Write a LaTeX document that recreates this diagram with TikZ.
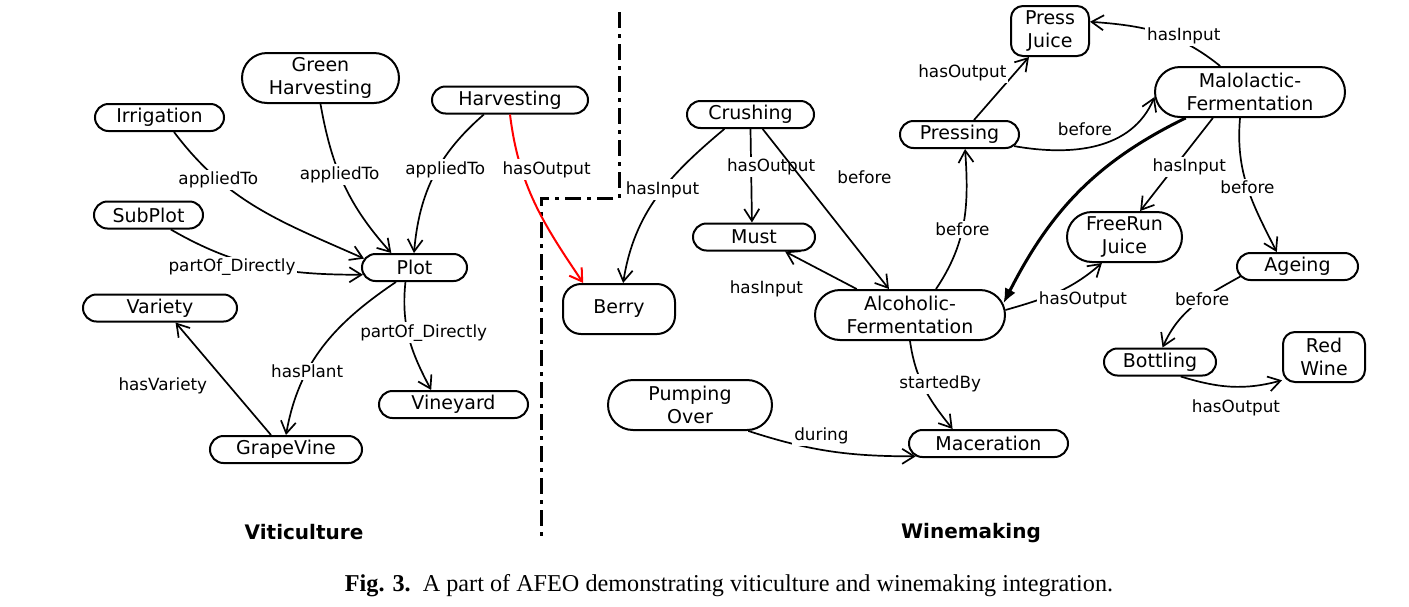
\documentclass[tikz,border=0pt]{standalone}
\usepackage{fontspec}
\setmainfont{DejaVu Sans}
\newfontfamily\capfont{Liberation Serif}
\usetikzlibrary{shapes.misc,arrows.meta}

\tikzset{
  concept/.style={rounded rectangle, draw, line width=1pt, inner sep=1pt,
    minimum height=13.5pt, align=center, font=\fontsize{9.5}{11.5}\selectfont},
  tall/.style={minimum height=25pt},
  cbox/.style={rectangle, rounded corners=6pt, draw, line width=1pt, inner sep=1pt,
    minimum height=25pt, align=center, font=\fontsize{9.5}{11.5}\selectfont},
  rel/.style={fill=white, inner sep=1pt, font=\fontsize{8.4}{10}\selectfont},
  link/.style={line width=0.85pt, -{Straight Barb[length=6pt,width=7.5pt]}},
  area/.style={font=\bfseries\fontsize{10}{12}\selectfont}
}

\begin{document}
\begin{tikzpicture}[x=0.5pt,y=0.5pt]
\useasboundingbox (0,0) rectangle (1409,-606);

%viticulture concepts
\node[concept, minimum width=66.5pt] (irrigation) at (159.5,-117.5) {Irrigation};
\node[concept, tall, minimum width=80.5pt] (greenharv) at (320.5,-78) {Green\\Harvesting};
\node[concept, minimum width=80pt] (harvesting) at (510,-100) {Harvesting};
\node[concept, minimum width=56.5pt] (subplot) at (148.5,-215) {SubPlot};
\node[concept, minimum width=54.5pt] (plot) at (414.5,-267.5) {Plot};
\node[concept, minimum width=79pt] (variety) at (160,-308) {Variety};
\node[concept, minimum width=76.5pt] (vineyard) at (453.5,-404.5) {Vineyard};
\node[concept, minimum width=78pt] (grapevine) at (286,-449.5) {GrapeVine};

%winemaking concepts
\node[cbox, rounded corners=9pt, minimum width=56pt] (berry) at (619,-309) {Berry};
\node[concept, minimum width=65.5pt] (crushing) at (750.5,-114.5) {Crushing};
\node[concept, minimum width=63pt] (must) at (754,-237) {Must};
\node[concept, tall, minimum width=97pt] (alcferm) at (910,-315) {Alcoholic-\\Fermentation};
\node[concept, tall, minimum width=84pt] (pumping) at (690,-405) {Pumping\\Over};
\node[concept, minimum width=81.5pt] (maceration) at (988.5,-443.5) {Maceration};
\node[concept, minimum width=61.5pt] (pressing) at (959.5,-134.5) {Pressing};
\node[cbox, minimum width=39pt] (pressjuice) at (1050,-31) {Press\\Juice};
\node[concept, tall, minimum width=97pt] (malferm) at (1250,-92) {Malolactic-\\Fermentation};
\node[concept, tall, minimum width=59.5pt] (freerun) at (1124.5,-237) {FreeRun\\Juice};
\node[concept, minimum width=62.5pt] (ageing) at (1297.5,-266.5) {Ageing};
\node[concept, minimum width=58pt] (bottling) at (1160,-362) {Bottling};
\node[cbox, minimum width=41pt] (redwine) at (1324,-357) {Red\\Wine};

%border between the two parts
\draw[line width=1.5pt, dash pattern=on 8pt off 3pt on 2pt off 3pt]
  (619,-12) -- (619,-198) -- (541,-198) -- (541,-540);

%viticulture relations
\draw[link] (irrigation.-45) to[out=-53,in=156] node[rel,pos=.27] {appliedTo} (plot.170);
\draw[link] (greenharv.south) to[out=-80,in=132] node[rel,pos=.43] {appliedTo} (plot.148);
\draw[link] (harvesting.209) to[out=-139,in=85] node[rel,pos=.45,xshift=4pt] {appliedTo} (plot.92);
\draw[link, red, line width=1pt] (harvesting.south) to[out=-83,in=124]
  node[rel, pos=.29, anchor=west, xshift=-11pt, text=black] {hasOutput} (berry.144);
\draw[link] (subplot.-33) to[out=-30,in=180] node[rel,pos=.45,xshift=-11pt,yshift=-1.5pt] {partOf\_Directly} (plot.188);
\draw[link] (plot.218) to[out=-146,in=80] node[rel,pos=.66] {hasPlant} (grapevine.north);
\draw[link] (plot.238) to[out=-96,in=118] node[rel,pos=.45,xshift=8pt] {partOf\_Directly} (vineyard.147);
\draw[link] (grapevine.136) -- node[rel,pos=.44,left=9.5pt] {hasVariety} (variety.-43);

%winemaking relations
\draw[link] (crushing.209) to[out=-140,in=81] node[rel,pos=.45] {hasInput} (berry.81);
\draw[link] (crushing.south) -- node[rel,pos=.41,xshift=10pt] {hasOutput} (must.98);
\draw[link] (crushing.-50) -- node[rel,pos=.3,right=17pt] {before} (alcferm.129);
\draw[link] (alcferm.154) -- node[rel,pos=.8,xshift=-16.5pt,yshift=-15pt] {hasInput} (must.-25);
\draw[link] (alcferm.45) to[out=56,in=-86] node[rel,pos=.45] {before} (pressing.-69);
\draw[link] (pressing.45) -- node[rel,pos=.75,left=3pt] {hasOutput} (pressjuice.231);
\draw[link] (pressing.-12) to[out=-10,in=-113] node[rel,pos=.42,above=5pt] {before} (malferm.183);
\draw[link] (malferm.139) to[out=141,in=-4] node[rel,pos=.3,yshift=3pt] {hasInput} (pressjuice.13);
\draw[line width=1.5pt, -{Latex[length=7.5pt,width=6pt]}] (malferm.202) to[out=-154,in=63] (alcferm.7);
\draw[link] (malferm.215) -- node[rel,pos=.53,xshift=7.5pt] {hasInput} (freerun.59);
\draw[link] (malferm.249) to[out=-95,in=117] node[rel,pos=.5] {before} (ageing.145);
\draw[link] (alcferm.3) to[out=16,in=-139] node[rel,pos=.3,anchor=west,xshift=-1pt] {hasOutput} (freerun.229);
\draw[link] (ageing.190) to[out=-151,in=66] node[rel,pos=.4] {before} (bottling.80);
\draw[link] (bottling.-35) to[out=-17,in=195] node[rel,pos=.55,below=5pt] {hasOutput} (redwine.209);
\draw[link] (alcferm.south) to[out=-82,in=129] node[rel,pos=.45,xshift=9pt] {startedBy} (maceration.158);
\draw[link] (pumping.-24) to[out=-18,in=180] node[rel,pos=.4,above=1pt,xshift=3pt] {during} (maceration.190);

%part titles and caption
\node[area] (viti) at (304,-532) {Viticulture};
\node[area] (wine) at (971,-533) {Winemaking};
\node[font=\capfont\fontsize{12.1}{14}\selectfont] (caption) at (729,-586)
  {\textbf{Fig. 3.}\enspace A part of AFEO demonstrating viticulture and winemaking integration.};
\end{tikzpicture}
\end{document}
